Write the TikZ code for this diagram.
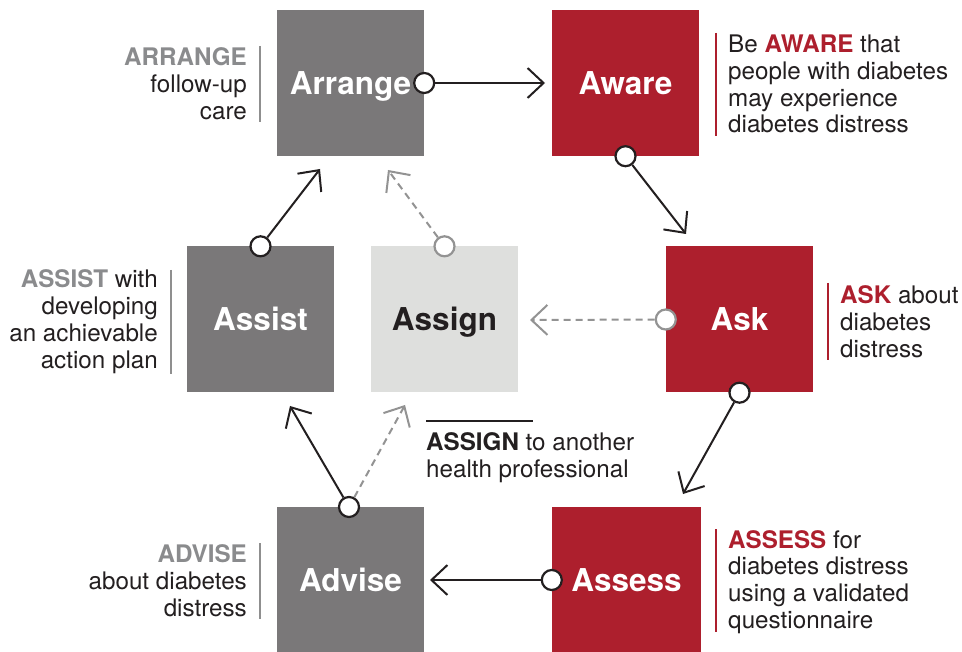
\documentclass[tikz,border=0pt]{standalone}
\usepackage{fontspec}
\setmainfont{TeX Gyre Heros}
\usetikzlibrary{arrows.meta}
\definecolor{dred}{HTML}{AD1F2D}
\definecolor{boxgray}{HTML}{7A7879}
\definecolor{lightbox}{HTML}{DEDFDD}
\definecolor{labgray}{HTML}{8A8B8D}
\definecolor{bargray}{HTML}{8F8F8F}
\definecolor{txt}{HTML}{231F20}
\definecolor{dashgray}{HTML}{939393}
\begin{document}
\begin{tikzpicture}[x=1pt,y=-1pt,
  stepbox/.style={minimum width=147pt, minimum height=146pt, inner sep=0pt,
    text height=22.5pt, text depth=0pt,
    font=\fontsize{31.5}{31.5}\selectfont\bfseries, text=white},
  desc/.style={inner sep=0pt, font=\fontsize{24.2}{26.8}\selectfont, text=txt},
  dot/.style={circle, minimum size=20pt, inner sep=0pt, fill=white, draw=txt, line width=2.2pt},
  graydot/.style={dot, draw=dashgray},
  conn/.style={draw=txt, line width=2pt, -{Straight Barb[length=16pt,width=30pt,line width=2pt]}},
  dconn/.style={draw=dashgray, line width=2pt, dash pattern=on 7pt off 5pt,
    -{Straight Barb[length=16pt,width=30pt,line width=2pt]}},
  redbar/.style={draw=dred, line width=2.5pt},
  graybar/.style={draw=bargray, line width=2.5pt}]
\useasboundingbox (0,0) rectangle (962,652);
\fill[white] (0,0) rectangle (962,652);

% boxes
\node[stepbox, fill=boxgray] (arrange) at (350.5,83) {Arrange};
\node[stepbox, fill=dred] (aware) at (625.5,83) {Aware};
\node[stepbox, fill=boxgray] (assist) at (260.5,319.5) {Assist};
\node[stepbox, fill=lightbox, text=txt] (assign) at (444.5,319.5) {Assign};
\node[stepbox, fill=dred] (ask) at (739.5,319.5) {Ask};
\node[stepbox, fill=boxgray] (advise) at (350.5,580) {Advise};
\node[stepbox, fill=dred, minimum width=149pt] (assess) at (626.5,580) {Assess};

% descriptions
\node[desc, align=right, anchor=east] (tarr) at (247,84) {\textcolor{labgray}{\bfseries ARRANGE}\\follow-up\\care};
\draw[graybar] (260,46) -- (260,122);
\node[desc, align=left, anchor=west] (taw) at (728,84) {Be \textcolor{dred}{\bfseries AWARE} that\\people with diabetes\\may experience\\diabetes distress};
\draw[redbar] (716,33) -- (716,136);
\node[desc, align=right, anchor=east] (tass) at (158,321.5) {\textcolor{labgray}{\bfseries ASSIST} with\\developing\\an achievable\\action plan};
\draw[graybar] (171,270) -- (171,374);
\node[desc, align=left, anchor=west] (task) at (840,321.5) {\textcolor{dred}{\bfseries ASK} about\\diabetes\\distress};
\draw[redbar] (828,283) -- (828,360);
\node[desc, align=left, anchor=west] (tasg) at (426,457.5) {{\bfseries ASSIGN} to another\\health professional};
\draw[draw=txt, line width=1.6pt] (426,421) -- (533,421);
\node[desc, align=right, anchor=east] (tadv) at (247,580.5) {\textcolor{labgray}{\bfseries ADVISE}\\about diabetes\\distress};
\draw[graybar] (260,543) -- (260,619);
\node[desc, align=left, anchor=west] (tasm) at (728,582) {\textcolor{dred}{\bfseries ASSESS} for\\diabetes distress\\using a validated\\questionnaire};
\draw[redbar] (716,529) -- (716,632);

% arrow end points
\coordinate (t1) at (545,83);
\coordinate (t2) at (686,234);
\coordinate (t3) at (530,320);
\coordinate (t4) at (683,494);
\coordinate (t5) at (430,580);
\coordinate (t6) at (290,406);
\coordinate (t7) at (405,405);
\coordinate (t8) at (320,169);
\coordinate (t9) at (388,170);

% circles
\node[dot] (c1) at (arrange.east) {};
\node[dot] (c2) at (aware.south) {};
\node[graydot] (c3) at (ask.west) {};
\node[dot] (c4) at (ask.south) {};
\node[dot] (c5) at (assess.west) {};
\node[dot] (c6) at (349,507) {};
\node[dot] (c8) at (assist.north) {};
\node[graydot] (c9) at (assign.north) {};

% connectors
\draw[conn] (c1) -- (t1);
\draw[conn] (c2) -- (t2);
\draw[dconn] (c3) -- (t3);
\draw[conn] (c4) -- (t4);
\draw[conn] (c5) -- (t5);
\draw[conn] (c6) -- (t6);
\draw[dconn] (c6) -- (t7);
\draw[conn] (c8) -- (t8);
\draw[dconn] (c9) -- (t9);
\end{tikzpicture}
\end{document}
